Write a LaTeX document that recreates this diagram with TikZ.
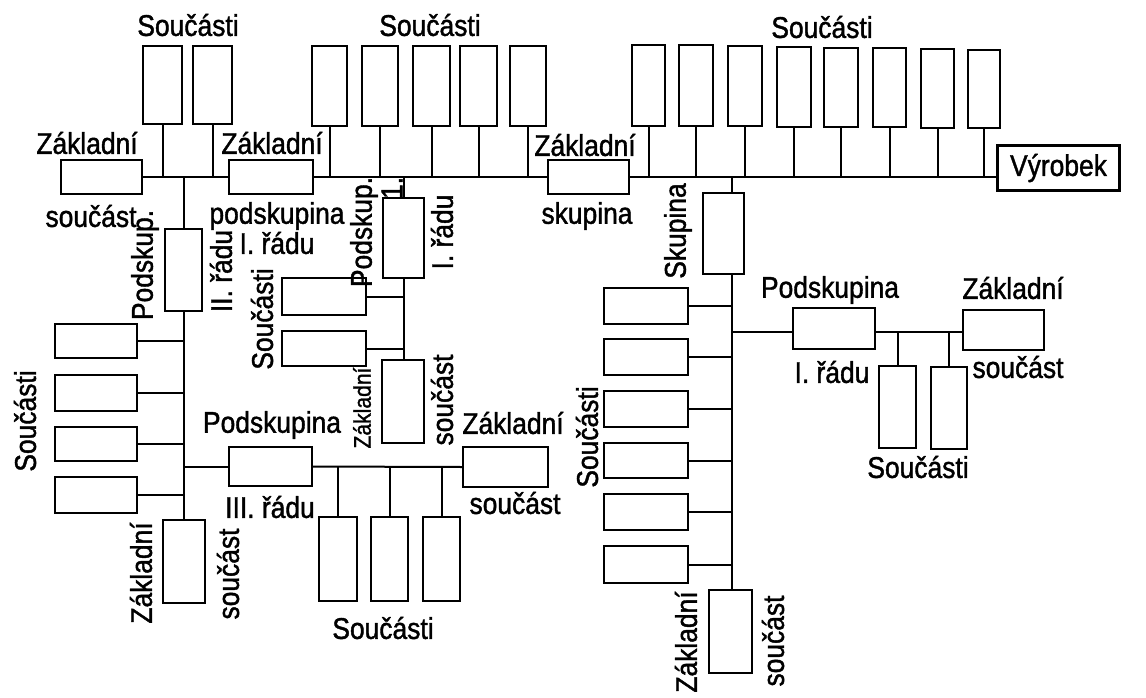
\documentclass[tikz,border=0pt]{standalone}
\usepackage{fontspec}
\setmainfont{Liberation Sans}[FakeStretch=0.88,FakeBold=1.3]
\newcommand\mkbox[6][]{%
  \pgfmathsetmacro\mbw{#5-#3}\pgfmathsetmacro\mbh{#6-#4}%
  \pgfmathsetmacro\mbx{(#3+#5)/2}\pgfmathsetmacro\mby{(#4+#6)/2}%
  \node[box,minimum width=\mbw pt,minimum height=\mbh pt,#1] (#2) at (\mbx,\mby) {};}
\begin{document}
\begin{tikzpicture}[x=1pt,y=-1pt,
  box/.style={draw,line width=2pt,inner sep=0pt,outer sep=0pt},
  ln/.style={line width=2pt},
  lbl/.style={inner sep=0pt,font=\fontsize{30}{34}\selectfont},
  rot/.style={lbl,rotate=90}]
\useasboundingbox[fill=white] (0,0) rectangle (1146,697);
% main line boxes
\mkbox{zsA}{61}{160}{142}{194}
\mkbox{zpB}{229}{160}{313}{194}
\mkbox{zsk}{548}{160}{629}{194}
\node[draw,line width=3.4pt,inner sep=0pt,minimum width=122pt,minimum height=45pt,
      font=\fontsize{30}{34}\selectfont] (vyr) at (1058.5,168) {Výrobek};
% top parts
\mkbox{sA1}{143}{46}{182}{124}
\mkbox{sA2}{193}{46}{232}{124}
\mkbox{sB1}{312}{46}{347}{126}
\mkbox{sB2}{362}{46}{398}{126}
\mkbox{sB3}{413}{46}{450}{126}
\mkbox{sB4}{460}{46}{497}{126}
\mkbox{sB5}{510}{46}{546}{126}
\mkbox{sC1}{632}{45}{665}{126}
\mkbox{sC2}{679}{45}{713}{126}
\mkbox{sC3}{728}{46}{762}{126}
\mkbox{sC4}{777}{47}{811}{127}
\mkbox{sC5}{824}{48}{858}{127}
\mkbox{sC6}{873}{48}{906}{127}
\mkbox{sC7}{921}{49}{954}{128}
\mkbox{sC8}{968}{50}{1000}{128}
% left branch (Podskup. II. radu)
\mkbox{p2}{165}{229}{202}{311}
\mkbox{L1}{55}{324}{137}{358}
\mkbox{L2}{55}{375}{137}{411}
\mkbox{L3}{55}{427}{137}{461}
\mkbox{L4}{55}{477}{137}{513}
\mkbox{zs2}{163}{520}{205}{603}
\mkbox{p3}{229}{447}{312}{486}
\mkbox{zs3}{463}{447}{548}{487}
\mkbox{b1}{319}{517}{357}{601}
\mkbox{b2}{371}{517}{408}{601}
\mkbox{b3}{423}{517}{460}{601}
% middle branch (Podskup. I. radu)
\mkbox{p1}{383}{198}{424}{278}
\mkbox{m1}{282}{278}{366}{315}
\mkbox{m2}{282}{331}{366}{366}
\mkbox{zs4}{382}{360}{424}{443}
% right branch (Skupina)
\mkbox{sk}{703}{193}{744}{274}
\mkbox{R1}{604}{288}{688}{324}
\mkbox{R2}{604}{339}{688}{375}
\mkbox{R3}{604}{391}{688}{427}
\mkbox{R4}{604}{443}{688}{478}
\mkbox{R5}{604}{494}{688}{530}
\mkbox{R6}{604}{546}{688}{583}
\mkbox{zs5}{709}{590}{752}{673}
\mkbox{pR}{793}{308}{875}{349}
\mkbox{zsR}{963}{310}{1044}{350}
\mkbox{sR1}{879}{366}{916}{448}
\mkbox{sR2}{931}{367}{967}{449}
% coordinates
\coordinate (M) at (0,177);
\coordinate (K) at (732,177);
\coordinate (KR) at (732,332);
% connectors
\draw[ln] (zsA.east) -- (zpB.west);
\draw[ln] (zpB.east) -- (zsk.west);
\draw[ln] (zsk.east) -- (zsk.east -| vyr.west);
\foreach \n in {sA1,sA2,sB1,sB2,sB3,sB4,sB5,sC1,sC2,sC3,sC4,sC5,sC6,sC7,sC8}
  \draw[ln] (\n.south) -- (\n.south |- M);
\draw[ln] (p2.north) -- (p2.north |- M);
\draw[ln] (p2.south) -- (p2.south |- zs2.north);
\foreach \n in {L1,L2,L3,L4}
  \draw[ln] (\n.east) -- (\n.east -| p2.south);
\draw[ln] (p3.west) -- (p3.west -| p2.south);
\draw[ln] (p3.east) -- (zs3.west);
\foreach \n in {b1,b2,b3}
  \draw[ln] (\n.north) -- (\n.north |- p3.east);
\draw[ln] (p1.north) -- (p1.north |- M);
\draw[ln] (p1.south) -- (p1.south |- zs4.north);
\foreach \n in {m1,m2}
  \draw[ln] (\n.east) -- (\n.east -| p1.south);
\draw[ln] (K) -- (K |- sk.north);
\draw[ln] (K |- sk.south) -- (K |- zs5.north);
\foreach \n in {R1,R2,R3,R4,R5,R6}
  \draw[ln] (\n.east) -- (\n.east -| K);
\draw[ln] (KR) -- (KR -| pR.west);
\draw[ln] (KR -| pR.east) -- (KR -| zsR.west);
\foreach \n in {sR1,sR2}
  \draw[ln] (\n.north) -- (\n.north |- KR);
% horizontal labels
\node[lbl] (t1) at (188,25) {Součásti};
\node[lbl] (t2) at (430,25) {Součásti};
\node[lbl] (t3) at (822,27) {Součásti};
\node[lbl] (t4) at (87,143) {Základní};
\node[lbl] (t5) at (91,216) {součást};
\node[lbl] (t6) at (272,143) {Základní};
\node[lbl] (t7) at (277,216) {podskupina};
\node[lbl] (t8) at (277,243) {I. řádu};
\node[lbl] (t9) at (585,145) {Základní};
\node[lbl] (t10) at (587,216) {skupina};
\node[lbl] (t11) at (272,425) {Podskupina};
\node[lbl] (t12) at (270,507) {III. řádu};
\node[lbl] (t13) at (513,423) {Základní};
\node[lbl] (t14) at (515,503) {součást};
\node[lbl] (t15) at (383,628) {Součásti};
\node[lbl] (t16) at (830,290) {Podskupina};
\node[lbl] (t17) at (832,372) {I. řádu};
\node[lbl] (t18) at (1013,288) {Základní};
\node[lbl] (t19) at (1018,367) {součást};
\node[lbl] (t20) at (918,467) {Součásti};
% rotated labels
\node[rot] (r1) at (145,265) {Podskup.};
\node[rot] (r2) at (221,271) {II. řádu};
\node[rot] (r3) at (25,421) {Součásti};
\node[rot] (r4) at (141,573) {Základní};
\node[rot] (r5) at (228,574) {součást};
\node[rot] (r6) at (364,232) {Podskup.};
\node[rot] (r7) at (392,188) {1.};
\node[rot] (r8) at (442,232) {I. řádu};
\node[rot] (r9) at (262,319) {Součásti};
\node[rot,font=\fontsize{24}{27}\selectfont] (r10) at (362,408) {Základní};
\node[rot] (r11) at (442,400) {součást};
\node[rot] (r12) at (678,231) {Skupina};
\node[rot] (r13) at (587,437) {Součásti};
\node[rot] (r14) at (686,642) {Základní};
\node[rot] (r15) at (773,641) {součást};
\end{tikzpicture}
\end{document}
